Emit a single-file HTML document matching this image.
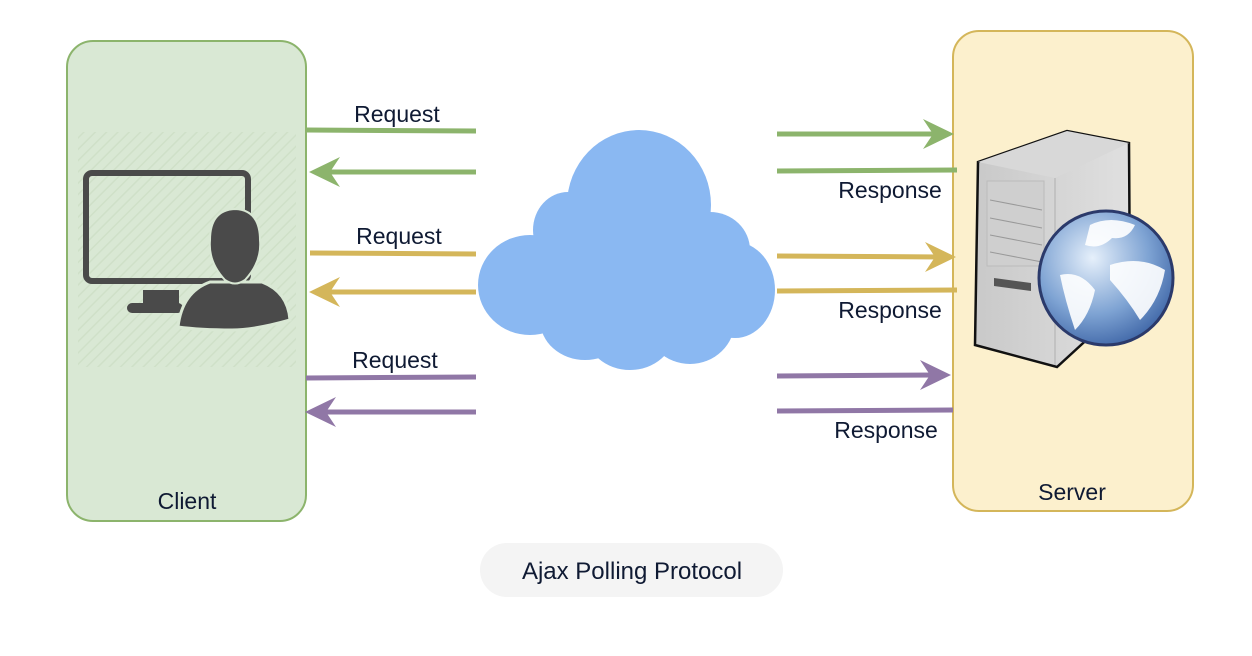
<!DOCTYPE html>
<html><head><meta charset="utf-8"><style>
html,body{margin:0;padding:0;background:#fff;}
svg{display:block;}
text{font-family:"Liberation Sans",sans-serif;fill:#0f1a33;}
</style></head><body>
<svg width="1252" height="656" viewBox="0 0 1252 656" xmlns="http://www.w3.org/2000/svg">
<defs>
<pattern id="hatch" width="8" height="8" patternUnits="userSpaceOnUse" patternTransform="rotate(45)">
<rect width="8" height="8" fill="#d9e8d4"/><line x1="0" y1="0" x2="0" y2="8" stroke="#cfe0c8" stroke-width="3"/>
</pattern>
<radialGradient id="globe" cx="0.4" cy="0.35" r="0.7">
<stop offset="0" stop-color="#e6f0fb"/><stop offset="0.6" stop-color="#7ea3d3"/><stop offset="1" stop-color="#3e65a6"/>
</radialGradient>
<linearGradient id="tower" x1="0" y1="0" x2="1" y2="0">
<stop offset="0" stop-color="#c9c9c9"/><stop offset="1" stop-color="#e0e0e0"/>
</linearGradient>
</defs>

<rect x="67" y="41" width="239" height="480" rx="26" fill="#d9e8d4" stroke="#8cb46c" stroke-width="2"/>
<rect x="78" y="132" width="218" height="235" fill="url(#hatch)"/>
<rect x="86" y="173" width="162" height="108" rx="6" fill="none" stroke="#4a4a4a" stroke-width="6"/>
<rect x="143" y="290" width="36" height="15" fill="#4a4a4a"/>
<rect x="127" y="303" width="56" height="10" rx="5" fill="#4a4a4a"/>
<path d="M178 327 Q182 292 210 282 L262 282 Q288 292 290 320 Q255 330 232 330 Q200 330 178 327 Z" fill="#4a4a4a" stroke="#d9e8d4" stroke-width="3"/>
<path d="M210 240 Q210 210 235 209 Q260 210 260 240 Q262 262 245 280 Q235 287 225 280 Q208 262 210 240 Z" fill="#4a4a4a" stroke="#d9e8d4" stroke-width="2"/>
<text x="187" y="509" font-size="23" text-anchor="middle">Client</text>

<rect x="953" y="31" width="240" height="480" rx="26" fill="#fcf0cd" stroke="#d4b65a" stroke-width="2"/>
<path d="M978 162 L1067 131 L1129 143 L1130 300 L1057 367 L975 345 Z" fill="url(#tower)" stroke="#111" stroke-width="2.5"/>
<path d="M978 162 L1067 131 L1129 143 L1055 178 Z" fill="#d8d8d8"/>
<line x1="1055" y1="178" x2="1055" y2="365" stroke="#bbb" stroke-width="1.5"/>
<rect x="987" y="181" width="57" height="85" fill="#cfcfcf" stroke="#bbb"/>
<line x1="990" y1="200" x2="1042" y2="210" stroke="#999"/><line x1="990" y1="218" x2="1042" y2="228" stroke="#999"/><line x1="990" y1="235" x2="1042" y2="245" stroke="#999"/><line x1="990" y1="252" x2="1042" y2="262" stroke="#999"/>
<path d="M994 278 L1031 283 L1031 291 L994 286 Z" fill="#555"/>
<circle cx="1106" cy="278" r="67" fill="url(#globe)" stroke="#2b3a6b" stroke-width="3"/>
<path d="M1090 225 Q1110 215 1135 225 Q1128 240 1112 238 Q1100 250 1085 245 Z M1110 265 Q1140 255 1165 270 Q1160 300 1140 320 Q1128 300 1110 280 Z M1060 275 Q1080 270 1095 290 Q1090 315 1075 330 Q1065 300 1060 275 Z" fill="#fff" opacity="0.9"/>
<text x="1072" y="500" font-size="23" text-anchor="middle">Server</text>

<g fill="#8ab8f2">
<ellipse cx="639" cy="205" rx="72" ry="75"/>
<ellipse cx="568" cy="230" rx="35" ry="38"/>
<ellipse cx="530" cy="285" rx="52" ry="50"/>
<ellipse cx="735" cy="290" rx="40" ry="48"/>
<ellipse cx="710" cy="250" rx="40" ry="38"/>
<ellipse cx="585" cy="320" rx="45" ry="40"/>
<ellipse cx="630" cy="330" rx="45" ry="40"/>
<ellipse cx="690" cy="320" rx="45" ry="44"/>
<rect x="520" y="240" width="220" height="90"/>
</g>

<g stroke-width="5" fill="none">
<line x1="306" y1="130" x2="476" y2="131" stroke="#8cb46c"/>
<line x1="325" y1="172" x2="476" y2="172" stroke="#8cb46c"/>
<line x1="310" y1="253" x2="476" y2="254" stroke="#d4b65a"/>
<line x1="325" y1="292" x2="476" y2="292" stroke="#d4b65a"/>
<line x1="306" y1="378" x2="476" y2="377" stroke="#9077a6"/>
<line x1="322" y1="412" x2="476" y2="412" stroke="#9077a6"/>
<line x1="777" y1="134" x2="940" y2="134" stroke="#8cb46c"/>
<line x1="777" y1="171" x2="957" y2="170" stroke="#8cb46c"/>
<line x1="777" y1="256" x2="942" y2="257" stroke="#d4b65a"/>
<line x1="777" y1="291" x2="957" y2="290" stroke="#d4b65a"/>
<line x1="777" y1="376" x2="938" y2="375" stroke="#9077a6"/>
<line x1="777" y1="411" x2="953" y2="410" stroke="#9077a6"/>
</g>
<g>
<path d="M309 172 L340 157 L330 172 L340 187 Z" fill="#8cb46c"/>
<path d="M309 292 L340 277 L330 292 L340 307 Z" fill="#d4b65a"/>
<path d="M305 412 L336 397 L326 412 L336 427 Z" fill="#9077a6"/>
<path d="M954 134 L923 119 L933 134 L923 149 Z" fill="#8cb46c"/>
<path d="M956 257 L925 242 L935 257 L925 272 Z" fill="#d4b65a"/>
<path d="M951 375 L920 360 L930 375 L920 390 Z" fill="#9077a6"/>
</g>
<g font-size="23">
<text x="397" y="122" text-anchor="middle">Request</text>
<text x="399" y="244" text-anchor="middle">Request</text>
<text x="395" y="368" text-anchor="middle">Request</text>
<text x="890" y="198" text-anchor="middle">Response</text>
<text x="890" y="318" text-anchor="middle">Response</text>
<text x="886" y="438" text-anchor="middle">Response</text>
</g>

<rect x="480" y="543" width="303" height="54" rx="27" fill="#f4f4f4"/>
<text x="632" y="579" font-size="24" text-anchor="middle" fill="#222">Ajax Polling Protocol</text>
</svg>
</body></html>
